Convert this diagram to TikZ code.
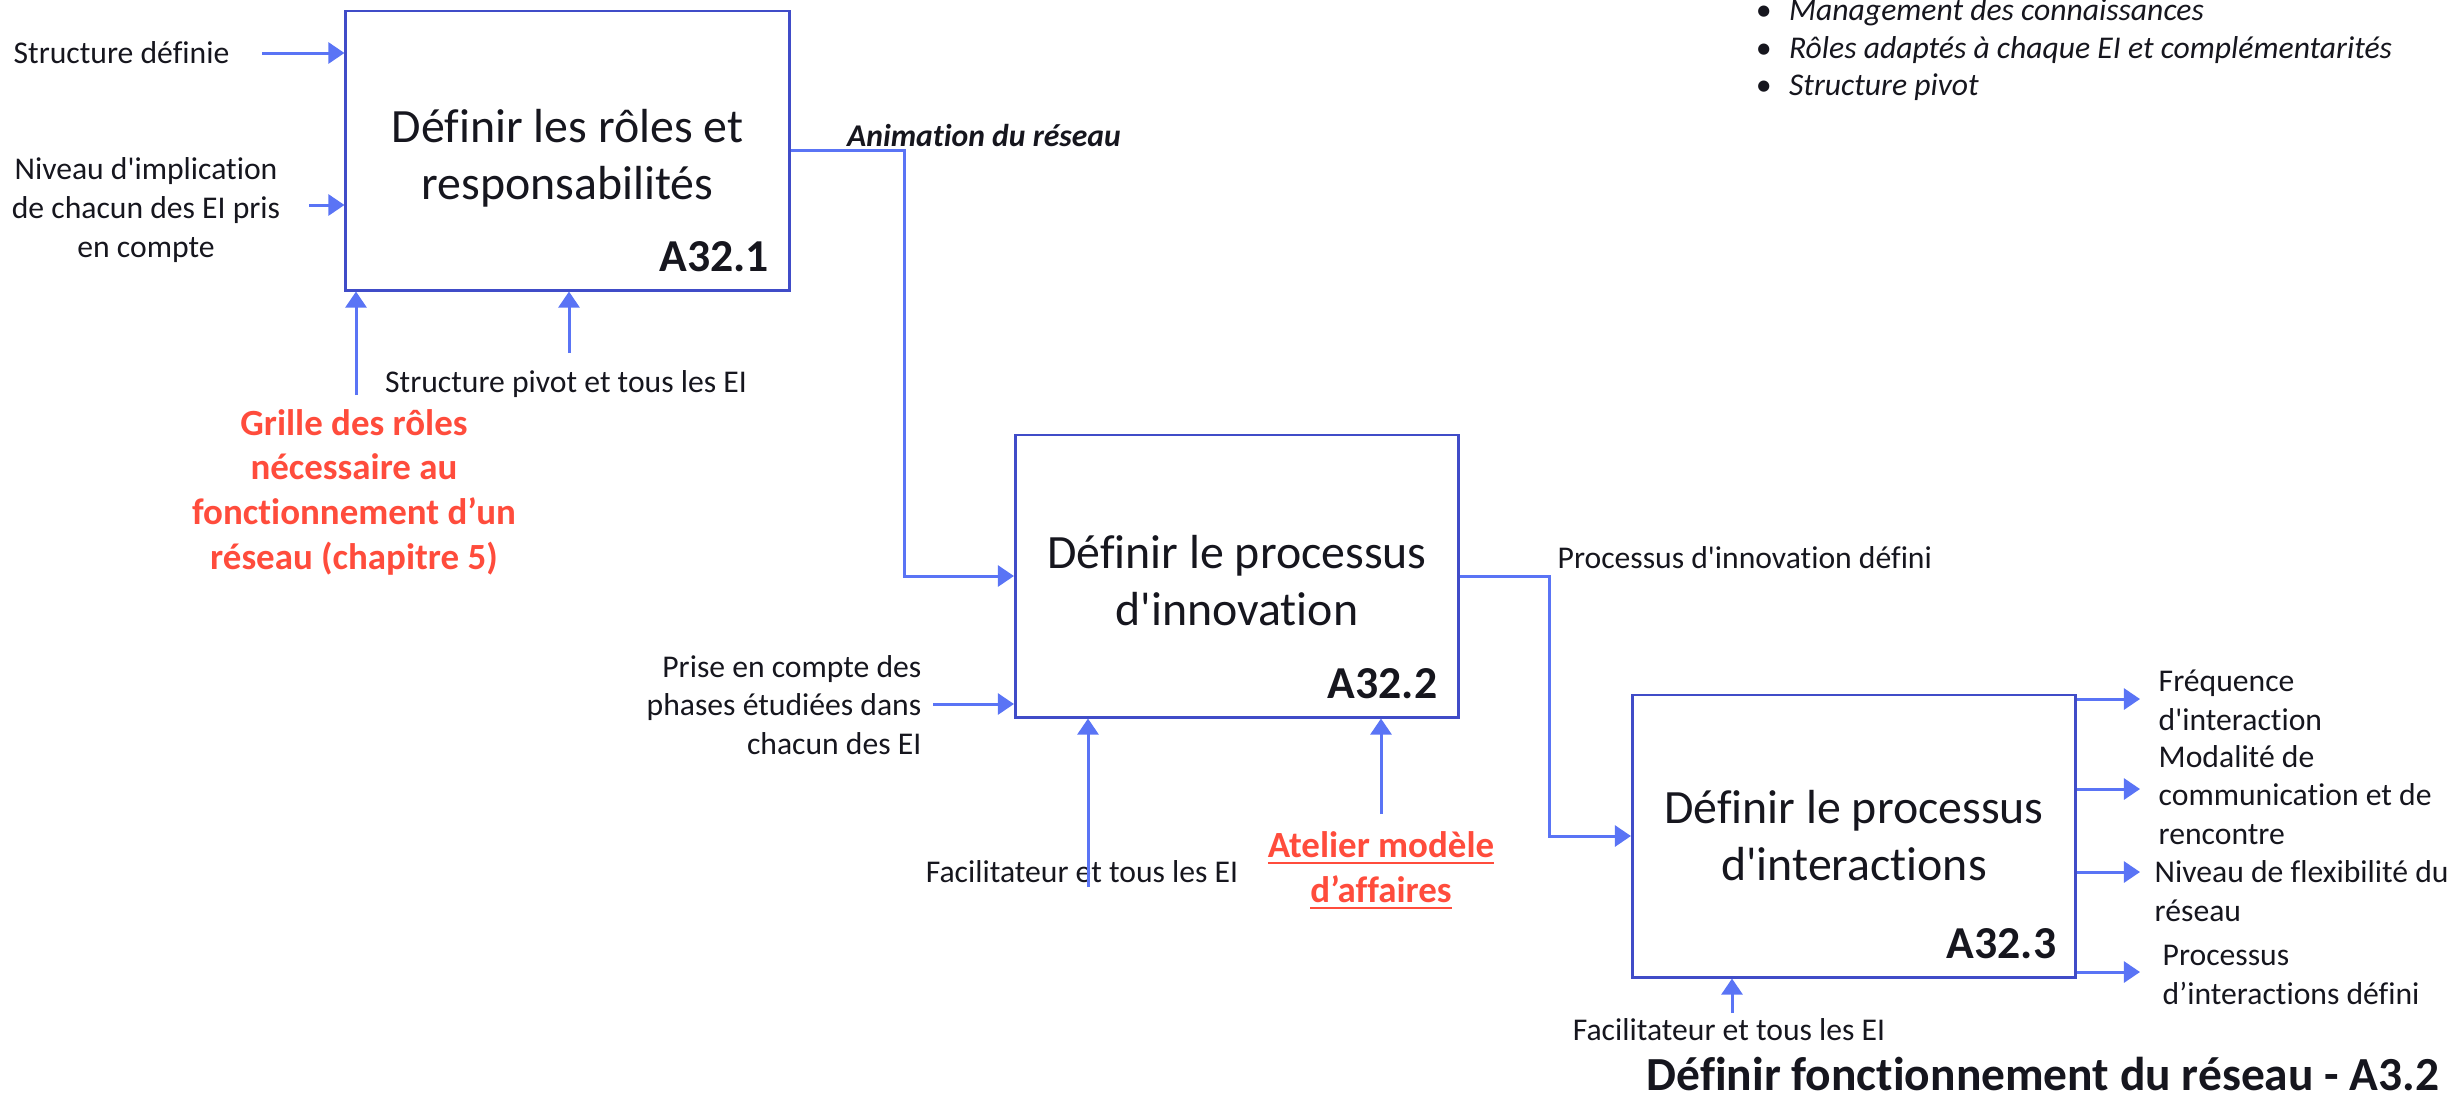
\documentclass[tikz,border=0pt]{standalone}
\usepackage{fontspec}
\setmainfont{Carlito}[Ligatures={TeXOff,NoCommon}]
\usetikzlibrary{arrows.meta}
\definecolor{flowblue}{RGB}{90,116,245}
\definecolor{edgeblue}{RGB}{64,76,200}
\definecolor{refred}{RGB}{255,76,60}
\definecolor{ink}{RGB}{22,22,30}

\begin{document}
\begin{tikzpicture}[x=0.01cm, y=-0.01cm,
    act/.style={draw=edgeblue, line width=0.8pt, minimum width=4.43cm, minimum height=2.82cm, inner sep=0pt},
    head/.style={align=center, text=ink, inner sep=0pt, font=\fontsize{13.6}{16.2}\selectfont},
    code/.style={anchor=base east, text=ink, inner sep=0pt, font=\bfseries\fontsize{13}{15}\selectfont},
    flow/.style={draw=flowblue, line width=0.85pt, -{Triangle[length=4.6pt,width=6pt]}},
    txt/.style={text=ink, inner sep=0pt, align=center, font=\fontsize{9}{11}\selectfont},
    ref/.style={text=refred, inner sep=0pt, align=center, font=\bfseries\fontsize{10.5}{12.7}\selectfont},
    note/.style={anchor=base west, text=ink, inner sep=0pt, font=\itshape\fontsize{9}{11}\selectfont}]

  \useasboundingbox (0,0) rectangle (2458,1114);

  % activity boxes
  \node[act, minimum height=2.79cm] (box1) at (567.5,150.5) {};
  \node[act] (box2) at (1237,576) {};
  \node[act] (box3) at (1854,836) {};
  \node[head] (h1) at ([yshift=-0.08cm]box1.center) {Définir les rôles et\\responsabilités};
  \node[head] (h2) at ([yshift=-0.05cm]box2.center) {Définir le processus\\d'innovation};
  \node[head] (h3) at (box3.center) {Définir le processus\\d'interactions};
  \node[code] (c1) at ([xshift=-0.21cm, yshift=0.2cm]box1.south east) {A32.1};
  \node[code] (c2) at ([xshift=-0.22cm, yshift=0.2cm]box2.south east) {A32.2};
  \node[code] (c3) at ([xshift=-0.2cm, yshift=0.2cm]box3.south east) {A32.3};

  % A32.1
  \node[txt, anchor=west] (t11) at (13,53) {Structure définie};
  \node[txt] (t12) at (146,210) {Niveau d'implication\\de chacun des EI pris\\en compte};
  \node[txt] (t13) at (566,384) {Structure pivot et tous les EI};
  \node[ref] (r1) at (354,492) {Grille des rôles\\nécessaire au\\fonctionnement d’un\\réseau (chapitre 5)};
  \coordinate (a11) at (262,53);
  \coordinate (a12) at (309,205);
  \coordinate (a13) at (356,395);
  \coordinate (a14) at (569,353);
  \draw[flow] (a11) -- (a11 -| box1.west);
  \draw[flow] (a12) -- (a12 -| box1.west);
  \draw[flow] (a13) -- (a13 |- box1.south);
  \draw[flow] (a14) -- (a14 |- box1.south);
  \draw[flow] (box1.east) -- ++(114,0) |- (box2.west);
  \node[txt, font=\bfseries\itshape\fontsize{9}{11}\selectfont] (t14) at (984,135) {Animation du réseau};

  % A32.2
  \node[txt, align=right, anchor=east] (t21) at (922,705) {Prise en compte des\\phases étudiées dans\\chacun des EI};
  \node[txt] (t22) at (1082,872) {Facilitateur et tous les EI};
  \node[ref] (r2) at (1381,871) {\underline{Atelier modèle}\\\underline{d’affaires}};
  \coordinate (a21) at (933,704);
  \coordinate (a22) at (1088,887);
  \coordinate (a23) at (1381,814);
  \draw[flow] (a21) -- (a21 -| box2.west);
  \draw[flow] (a22) -- (a22 |- box2.south);
  \draw[flow] (a23) -- (a23 |- box2.south);
  \draw[flow] (box2.east) -- ++(89,0) |- (box3.west);
  \node[txt, anchor=west] (t23) at (1557,558) {Processus d'innovation défini};

  % A32.3
  \foreach \y/\n in {699/1, 789/2, 872/3, 972/4}
    {\coordinate (o\n) at (2140,\y);
     \draw[flow] (o\n -| box3.east) -- (o\n);}
  \node[txt, anchor=west, align=left] (t31) at (2158,700) {Fréquence\\d'interaction};
  \node[txt, anchor=west, align=left] (t32) at (2158,795) {Modalité de\\communication et de\\rencontre};
  \node[txt, anchor=west, align=left] (t33) at (2154,891) {Niveau de flexibilité du\\réseau};
  \node[txt, anchor=west, align=left] (t34) at (2162,975) {Processus\\d’interactions défini};
  \coordinate (a31) at (1732,1013);
  \draw[flow] (a31) -- (a31 |- box3.south);
  \node[txt] (t35) at (1729,1030) {Facilitateur et tous les EI};

  % title and notes
  \node[anchor=base east, text=ink, inner sep=0pt, font=\bfseries\fontsize{13.5}{16}\selectfont] (title) at (2440,1090) {Définir fonctionnement du réseau - A3.2};
  \node[note] (n1) at (1755,20) {\makebox[9.5pt][l]{•}Management des connaissances};
  \node[note] (n2) at (1755,58) {\makebox[9.5pt][l]{•}Rôles adaptés à chaque EI et complémentarités};
  \node[note] (n3) at (1755,95) {\makebox[9.5pt][l]{•}Structure pivot};
\end{tikzpicture}
\end{document}
